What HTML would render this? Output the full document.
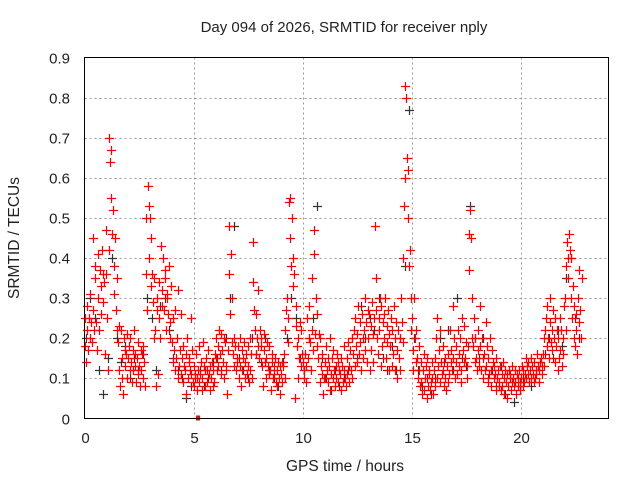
<!DOCTYPE html>
<html><head><meta charset="utf-8"><style>
body{margin:0;background:#fff}
svg{display:block;font-family:"Liberation Sans",sans-serif}
</style></head><body>
<svg id="chart" width="640" height="480">
<text x="344" y="32" font-size="15" text-anchor="middle" fill="#222">Day 094 of 2026, SRMTID for receiver nply</text>
<text x="345" y="471" font-size="15.5" text-anchor="middle" fill="#222">GPS time / hours</text>
<text transform="translate(19,238) rotate(-90)" font-size="15.5" text-anchor="middle" fill="#222">SRMTID / TECUs</text>
<g id="grid"></g>
<g id="ticks"></g>
<g id="black"></g>
<g id="red"></g>
<rect x="84.5" y="57.5" width="524" height="361" fill="none" stroke="#000" stroke-width="1"/>
</svg>
<script>
const xTicks=[0,5,10,15,20];
const yTicks=[0,0.1,0.2,0.3,0.4,0.5,0.6,0.7,0.8,0.9];
const redStep=0.1;
const redValues=[
0.18,0.25,0.14,0.22,0.28,0.17,0.25,0.2,0.31,0.24,0.19,0.45,0.27,0.22,0.38,0.35,0.24,0.17,0.3,0.41,0.22,0.37,0.26,0.33,0.42,0.29,0.36,0.34,0.16,0.47,
0.36,0.25,0.12,0.42,0.7,0.64,0.67,0.55,0.46,0.52,0.38,0.31,0.45,0.27,0.22,0.35,0.19,0.23,0.12,0.08,0.22,0.15,0.1,0.06,0.2,0.13,0.17,0.16,0.1,0.21,
0.15,0.18,0.12,0.2,0.14,0.09,0.17,0.12,0.22,0.13,0.16,0.09,0.15,0.11,0.19,0.13,0.08,0.17,0.12,0.16,0.1,0.18,0.14,0.08,0.36,0.5,0.27,0.58,0.53,0.4,
0.5,0.33,0.45,0.36,0.29,0.2,0.35,0.22,0.08,0.27,0.3,0.11,0.34,0.25,0.2,0.43,0.32,0.28,0.4,0.27,0.35,0.37,0.22,0.31,0.3,0.26,0.38,0.24,0.2,0.33,
0.19,0.25,0.14,0.17,0.12,0.27,0.15,0.2,0.1,0.32,0.13,0.17,0.26,0.11,0.15,0.18,0.09,0.13,0.12,0.16,0.06,0.2,0.1,0.14,0.15,0.12,0.25,0.11,0.17,0.09,
0.13,0.08,0.11,0.16,0.07,0.1,0.12,0.18,0.09,0.11,0.14,0.07,0.1,0.19,0.13,0.12,0.08,0.15,0.09,0.12,0.17,0.11,0.07,0.13,0.1,0.14,0.08,0.12,0.09,0.16,
0.15,0.2,0.12,0.18,0.13,0.22,0.16,0.21,0.11,0.17,0.14,0.2,0.1,0.19,0.13,0.12,0.06,0.17,0.48,0.36,0.26,0.41,0.3,0.19,0.16,0.13,0.2,0.18,0.12,0.15,
0.14,0.18,0.1,0.2,0.13,0.08,0.17,0.12,0.15,0.19,0.1,0.14,0.16,0.11,0.18,0.13,0.09,0.2,0.12,0.16,0.1,0.44,0.34,0.27,0.22,0.26,0.16,0.2,0.32,0.18,
0.15,0.22,0.18,0.2,0.13,0.08,0.17,0.21,0.14,0.15,0.1,0.19,0.13,0.18,0.11,0.12,0.07,0.16,0.14,0.1,0.13,0.11,0.15,0.09,0.12,0.08,0.14,0.1,0.13,0.06,
0.11,0.14,0.09,0.13,0.16,0.1,0.22,0.27,0.3,0.25,0.19,0.54,0.55,0.45,0.38,0.5,0.33,0.4,0.36,0.05,0.28,0.23,0.18,0.1,0.2,0.15,0.24,0.13,0.22,0.16,
0.14,0.1,0.12,0.16,0.13,0.09,0.25,0.15,0.2,0.28,0.19,0.12,0.35,0.22,0.17,0.47,0.41,0.21,0.3,0.26,0.18,0.15,0.21,0.09,0.2,0.13,0.11,0.16,0.06,0.1,
0.14,0.1,0.18,0.12,0.09,0.15,0.13,0.2,0.07,0.11,0.15,0.1,0.17,0.12,0.08,0.13,0.1,0.16,0.09,0.14,0.12,0.11,0.07,0.15,0.13,0.09,0.18,0.12,0.1,0.08,
0.15,0.11,0.19,0.13,0.09,0.17,0.12,0.2,0.1,0.16,0.22,0.13,0.25,0.18,0.14,0.21,0.28,0.16,0.24,0.19,0.12,0.26,0.2,0.15,0.22,0.3,0.17,0.24,0.14,0.27,
0.2,0.26,0.12,0.23,0.17,0.29,0.21,0.14,0.25,0.48,0.35,0.27,0.2,0.16,0.25,0.22,0.3,0.13,0.28,0.18,0.24,0.26,0.2,0.3,0.15,0.23,0.19,0.27,0.12,0.21,
0.18,0.25,0.13,0.22,0.16,0.28,0.2,0.12,0.24,0.17,0.1,0.22,0.15,0.2,0.12,0.3,0.24,0.19,0.4,0.53,0.6,0.83,0.8,0.65,0.62,0.5,0.38,0.42,0.3,0.22,
0.25,0.17,0.12,0.3,0.2,0.14,0.22,0.15,0.1,0.18,0.12,0.08,0.14,0.09,0.06,0.12,0.16,0.07,0.1,0.13,0.05,0.15,0.08,0.11,0.12,0.07,0.09,0.1,0.14,0.06,
0.12,0.08,0.15,0.2,0.1,0.25,0.13,0.17,0.09,0.22,0.14,0.11,0.18,0.12,0.08,0.15,0.1,0.07,0.13,0.09,0.16,0.11,0.22,0.14,0.17,0.12,0.28,0.15,0.2,0.1,
0.14,0.18,0.11,0.22,0.13,0.16,0.2,0.12,0.09,0.25,0.17,0.14,0.23,0.15,0.19,0.13,0.1,0.18,0.37,0.46,0.52,0.45,0.3,0.2,0.18,0.25,0.14,0.2,0.15,0.12,
0.17,0.22,0.13,0.28,0.18,0.12,0.2,0.15,0.1,0.16,0.12,0.24,0.13,0.18,0.09,0.15,0.11,0.2,0.12,0.08,0.17,0.14,0.1,0.13,0.11,0.07,0.15,0.1,0.12,0.08,
0.09,0.13,0.07,0.11,0.08,0.14,0.1,0.06,0.12,0.09,0.11,0.05,0.08,0.12,0.1,0.11,0.07,0.09,0.13,0.1,0.08,0.09,0.12,0.06,0.11,0.08,0.1,0.12,0.09,0.07,
0.1,0.13,0.08,0.12,0.09,0.11,0.15,0.1,0.13,0.11,0.14,0.09,0.12,0.1,0.15,0.13,0.11,0.09,0.14,0.1,0.12,0.11,0.16,0.13,0.12,0.09,0.14,0.15,0.11,0.13,
0.16,0.2,0.13,0.22,0.25,0.18,0.28,0.2,0.15,0.24,0.3,0.19,0.22,0.17,0.27,0.2,0.14,0.25,0.18,0.22,0.12,0.2,0.15,0.25,0.17,0.22,0.13,0.2,0.16,0.28,
0.3,0.38,0.22,0.44,0.4,0.35,0.46,0.42,0.3,0.4,0.25,0.33,0.28,0.2,0.18,0.22,0.26,0.16,0.3,0.24,0.37,0.27,0.2,0.35
];
const blackStep=0.2;
const blackValues=[
0.2,0.3,0.25,0.12,0.06,0.15,0.4,0.2,0.14,0.18,
0.1,0.15,0.12,0.16,0.3,0.25,0.12,0.28,0.3,0.22,
0.15,0.12,0.1,0.05,0.08,0.1,0.12,0.08,0.1,0.14,
0.15,0.12,0.2,0.3,0.48,0.15,0.12,0.1,0.2,0.16,
0.14,0.2,0.12,0.1,0.08,0.14,0.2,0.3,0.25,0.15,
0.12,0.2,0.25,0.53,0.15,0.1,0.07,0.12,0.08,0.1,
0.12,0.2,0.15,0.28,0.2,0.25,0.22,0.3,0.15,0.12,
0.18,0.12,0.2,0.38,0.77,0.2,0.12,0.08,0.1,0.06,
0.1,0.2,0.14,0.22,0.12,0.3,0.15,0.13,0.53,0.2,
0.15,0.2,0.1,0.12,0.08,0.13,0.06,0.1,0.04,0.08,
0.1,0.13,0.08,0.12,0.14,0.16,0.2,0.15,0.22,0.18,
0.35,0.4,0.25,0.2
];
const markerTimes=[5.2];
const markerValues=[0];

const NS='http://www.w3.org/2000/svg';
const X0=84.5,X1=608.5,Y0=418.5,Y1=57.5,XMAX=24,YMAX=0.9;
function xs(t){return X0+t/XMAX*(X1-X0);}
function ys(v){return Y0-v/YMAX*(Y0-Y1);}
function mk(tag,attrs,parent){const e=document.createElementNS(NS,tag);for(const k in attrs)e.setAttribute(k,attrs[k]);parent.appendChild(e);return e;}
const grid=document.getElementById('grid'),ticks=document.getElementById('ticks');
xTicks.forEach(t=>{
  const x=Math.round(xs(t))+0.5;
  if(t>0){const g=mk('line',{x1:x,x2:x,y1:Y1,y2:Y0,stroke:'#999','stroke-dasharray':'2,3'},grid);
  
  }
  const l=mk('text',{x:x,y:443,'font-size':15,'text-anchor':'middle',fill:'#222'},ticks);
  l.textContent=t;
  
  
});
yTicks.forEach(v=>{
  const y=Math.round(ys(v))+0.5;
  if(v>0&&v<0.9){const g=mk('line',{x1:X0,x2:X1,y1:y,y2:y,stroke:'#999','stroke-dasharray':'2,3'},grid);
  
  }
  const l=mk('text',{x:70,y:y+5,'font-size':15,'text-anchor':'end',fill:'#222'},ticks);
  l.textContent=v===0?'0':v.toFixed(1);
  
  
});
function plus(g,t,v,color,name){
  const x=Math.round(xs(t))+0.5,y=Math.round(ys(v))+0.5;
  const p=mk('path',{d:`M${x-4.5},${y}H${x+4.5}M${x},${y-4.5}V${y+4.5}`,stroke:color,'stroke-width':1.2,fill:'none'},g);
  
  
}
const bg=document.getElementById('black');
blackValues.forEach((v,i)=>plus(bg,i*blackStep+0.07,v,'#333','black-point'));
const rg=document.getElementById('red');
redValues.forEach((v,i)=>plus(rg,Math.floor(i/3)*redStep+(i%3)*redStep/3,v,'#ff0000','red-point'));
markerTimes.forEach((t,i)=>{
  const r=mk('rect',{x:xs(t)-2,y:ys(markerValues[i])-3,width:4,height:5,fill:'#ff0000'},rg);
  
  
});
</script>
</body></html>
